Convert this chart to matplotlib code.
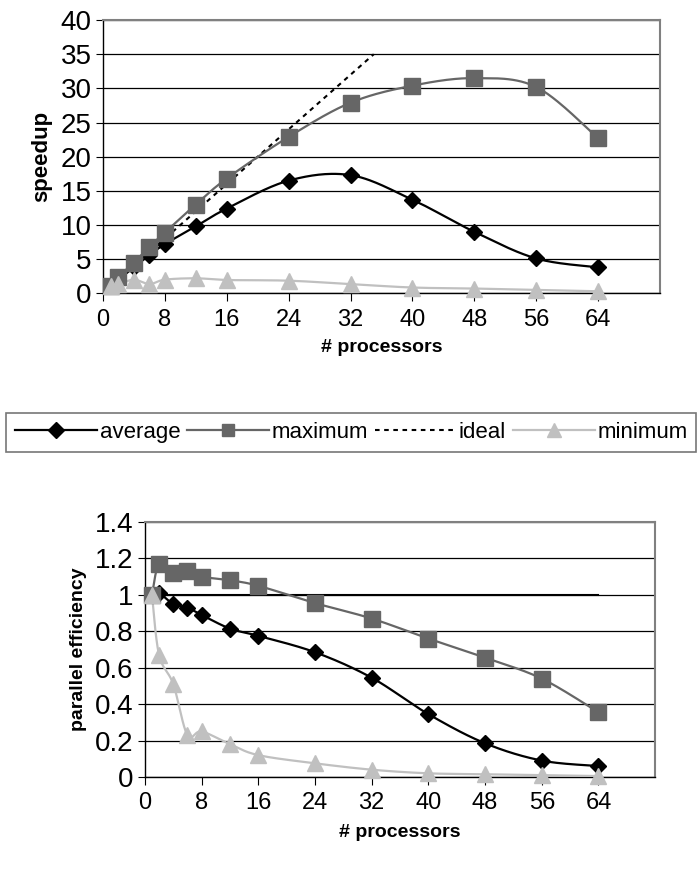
import numpy as np
import matplotlib.pyplot as plt
from matplotlib.lines import Line2D

plt.rcParams['font.family'] = ['Liberation Sans', 'DejaVu Sans']

# processor counts
procs = [1, 2, 4, 6, 8, 12, 16, 24, 32, 40, 48, 56, 64]

# speedup (top chart)
speedup_avg = [1.0, 2.0, 3.8, 5.6, 7.2, 9.8, 12.4, 16.5, 17.3, 13.7, 9.0, 5.1, 3.8]
speedup_max = [1.0, 2.4, 4.5, 6.8, 8.9, 13.0, 16.8, 22.9, 27.9, 30.4, 31.5, 30.2, 22.7]
speedup_min = [1.0, 1.3, 2.0, 1.35, 2.0, 2.2, 1.95, 1.85, 1.35, 0.85, 0.7, 0.5, 0.3]
ideal_x = [1, 35]
ideal_speedup = [1, 35]

# parallel efficiency (bottom chart)
eff_avg = [1.0, 1.01, 0.95, 0.93, 0.89, 0.815, 0.775, 0.685, 0.545, 0.345, 0.185, 0.09, 0.06]
eff_max = [1.0, 1.17, 1.12, 1.13, 1.10, 1.08, 1.05, 0.955, 0.87, 0.76, 0.655, 0.54, 0.355]
eff_min = [1.0, 0.67, 0.51, 0.23, 0.25, 0.18, 0.12, 0.075, 0.04, 0.02, 0.015, 0.01, 0.005]
ideal_eff_x = [1, 64]
ideal_eff = [1, 1]

x_ticks = [0, 8, 16, 24, 32, 40, 48, 56, 64]

C_AVG = 'black'
C_MAX = '#666666'
C_MIN = '#c0c0c0'


def smooth(x, y, n=30):
    # Excel-like smoothed line (bezier with 1/6 tension)
    p = np.column_stack([x, y]).astype(float)
    p = np.vstack([p[0], p, p[-1]])
    out = []
    t = np.linspace(0, 1, n)[:, None]
    for i in range(1, len(p) - 2):
        p0, p1, p2, p3 = p[i - 1], p[i], p[i + 1], p[i + 2]
        c1 = p1 + (p2 - p0) / 6
        c2 = p2 - (p3 - p1) / 6
        seg = ((1 - t) ** 3) * p1 + 3 * ((1 - t) ** 2) * t * c1 + 3 * (1 - t) * t ** 2 * c2 + t ** 3 * p2
        out.append(seg)
    out = np.vstack(out)
    return out[:, 0], out[:, 1]


def series(ax, x, y, color, marker, ms):
    sx, sy = smooth(x, y)
    ax.plot(sx, sy, color=color, lw=1.6, zorder=3)
    ax.plot(x, y, ls='none', marker=marker, ms=ms, color=color, zorder=4, clip_on=False)


def style_axes(ax):
    ax.set_xlim(0, 72)
    ax.set_xticks(x_ticks)
    ax.yaxis.grid(True, color='black', lw=0.9)
    ax.set_axisbelow(True)
    for s in ['top', 'right']:
        ax.spines[s].set_color('#808080')
        ax.spines[s].set_linewidth(1.5)
    for s in ['left', 'bottom']:
        ax.spines[s].set_color('black')
        ax.spines[s].set_linewidth(1.0)
    ax.tick_params(axis='x', direction='out', length=6, labelsize=17, pad=5)
    ax.tick_params(axis='y', direction='out', length=5, labelsize=20, pad=3)


fig = plt.figure(figsize=(7, 8.73), dpi=100)

# top: speedup
ax1 = fig.add_axes([0.147, 0.664, 0.796, 0.313])
ax1.plot(ideal_x, ideal_speedup, color='black', ls=(0, (2.2, 2.2)), lw=1.5, zorder=2)
series(ax1, procs, speedup_avg, C_AVG, 'D', 8)
series(ax1, procs, speedup_max, C_MAX, 's', 11)
series(ax1, procs, speedup_min, C_MIN, '^', 11)
style_axes(ax1)
ax1.set_ylim(0, 40)
ax1.set_yticks(range(0, 41, 5))
ax1.set_ylabel('speedup', fontsize=16, fontweight='bold', labelpad=6)
ax1.set_xlabel('# processors', fontsize=14, fontweight='bold', labelpad=6)

# bottom: parallel efficiency
ax2 = fig.add_axes([0.207, 0.110, 0.729, 0.292])
ax2.plot(ideal_eff_x, ideal_eff, color='black', lw=1.5, zorder=2)
series(ax2, procs, eff_avg, C_AVG, 'D', 8)
series(ax2, procs, eff_max, C_MAX, 's', 11)
series(ax2, procs, eff_min, C_MIN, '^', 11)
style_axes(ax2)
ax2.set_ylim(0, 1.4)
ax2.set_yticks([0, 0.2, 0.4, 0.6, 0.8, 1.0, 1.2, 1.4])
ax2.set_yticklabels(['0', '0.2', '0.4', '0.6', '0.8', '1', '1.2', '1.4'])
ax2.set_ylabel('parallel efficiency', fontsize=14, fontweight='bold', labelpad=6)
ax2.set_xlabel('# processors', fontsize=14, fontweight='bold', labelpad=7)

# legend
handles = [
    Line2D([], [], color=C_AVG, lw=1.6, marker='D', ms=8),
    Line2D([], [], color=C_MAX, lw=1.6, marker='s', ms=9),
    Line2D([], [], color='black', lw=1.5, ls=(0, (2.2, 2.2))),
    Line2D([], [], color=C_MIN, lw=1.6, marker='^', ms=10),
]
leg = fig.legend(handles, ['average', 'maximum', 'ideal', 'minimum'],
                 loc='center', bbox_to_anchor=(0.502, 0.505), ncol=4,
                 fontsize=16, handlelength=3.7, handletextpad=0.1,
                 columnspacing=0.3, fancybox=False, borderpad=0.4,
                 frameon=True)
leg.get_frame().set_edgecolor('#555555')
leg.get_frame().set_linewidth(1.2)

fig.savefig('out.png', dpi=100)
